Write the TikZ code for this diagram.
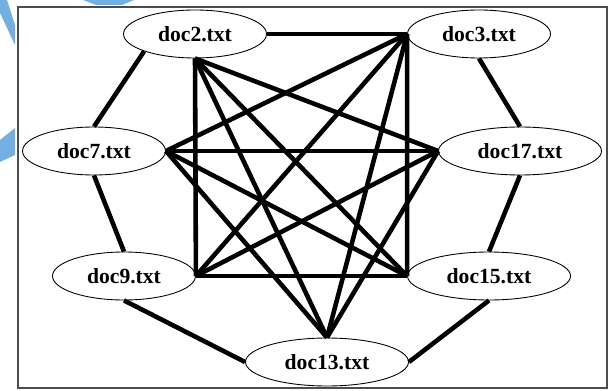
\documentclass[tikz,border=0pt]{standalone}
\usepackage{fontspec}
\setmainfont{Liberation Serif}
\usetikzlibrary{shapes.geometric}
\definecolor{markblue}{RGB}{115,175,225}

\begin{document}
\begin{tikzpicture}[
            x=0.02cm, y=-0.02cm,
            doc/.style={draw, ellipse, fill=white, line width=0.5pt, inner sep=0pt, minimum width=2.86cm, minimum height=0.96cm, font=\bfseries\fontsize{12.3}{14}\selectfont},
            wide/.style={doc, minimum width=3.26cm},
            link/.style={line width=2.6pt},
            mark blue/.style={fill=markblue, draw=none}
        ]
            \useasboundingbox (0,0) rectangle (614,391);

            % watermark pieces at the left edge
            \fill[mark blue] (0,0) -- (7,0) -- (15,25) -- (15,45) -- (0,13) -- cycle;
            \fill[mark blue] (83,0) -- (134,0) -- (122,5) -- (96,5) -- cycle;
            \fill[mark blue] (15,128) -- (0,140) -- (0,162) -- (15,155) -- cycle;

            % frame
            \draw[black!70, line width=0.6pt] (18,7) rectangle (607,388);

            % the documents
            \node[doc] (doc2) at (195,34) {doc2.txt};
            \node[doc] (doc3) at (479,34) {doc3.txt};
            \node[doc] (doc7) at (94,151) {doc7.txt};
            \node[wide] (doc17) at (520,151) {doc17.txt};
            \node[doc] (doc9) at (124,276) {doc9.txt};
            \node[wide] (doc15) at (489,276) {doc15.txt};
            \node[wide] (doc13) at (327,362) {doc13.txt};

            % outer ring
            \draw[link] (doc2.east) -- (doc3.west);
            \draw[link] (doc2.south west) -- (doc7.north);
            \draw[link] (doc7.south) -- (doc9.north);
            \draw[link] (doc9.south) -- (doc13.west);
            \draw[link] (doc13.east) -- (doc15.south);
            \draw[link] (doc15.north) -- (doc17.south);
            \draw[link] (doc17.north) -- (doc3.south);

            % square and middle line
            \draw[link] (doc2.south) -- (doc9.east);
            \draw[link] (doc3.west) -- (doc15.west);
            \draw[link] (doc9.east) -- (doc15.west);
            \draw[link] (doc7.east) -- (doc17.west);

            % crossing links
            \draw[link] (doc2.south) -- (doc17.west);
            \draw[link] (doc2.south) -- (doc15.west);
            \draw[link] (doc2.south) -- (doc13.north);
            \draw[link] (doc3.west) -- (doc7.east);
            \draw[link] (doc3.west) -- (doc9.east);
            \draw[link] (doc3.west) -- (doc13.north);
            \draw[link] (doc7.east) -- (doc15.west);
            \draw[link] (doc7.east) -- (doc13.north);
            \draw[link] (doc17.west) -- (doc9.east);
            \draw[link] (doc17.west) -- (doc13.north);
          \end{tikzpicture}
\end{document}
